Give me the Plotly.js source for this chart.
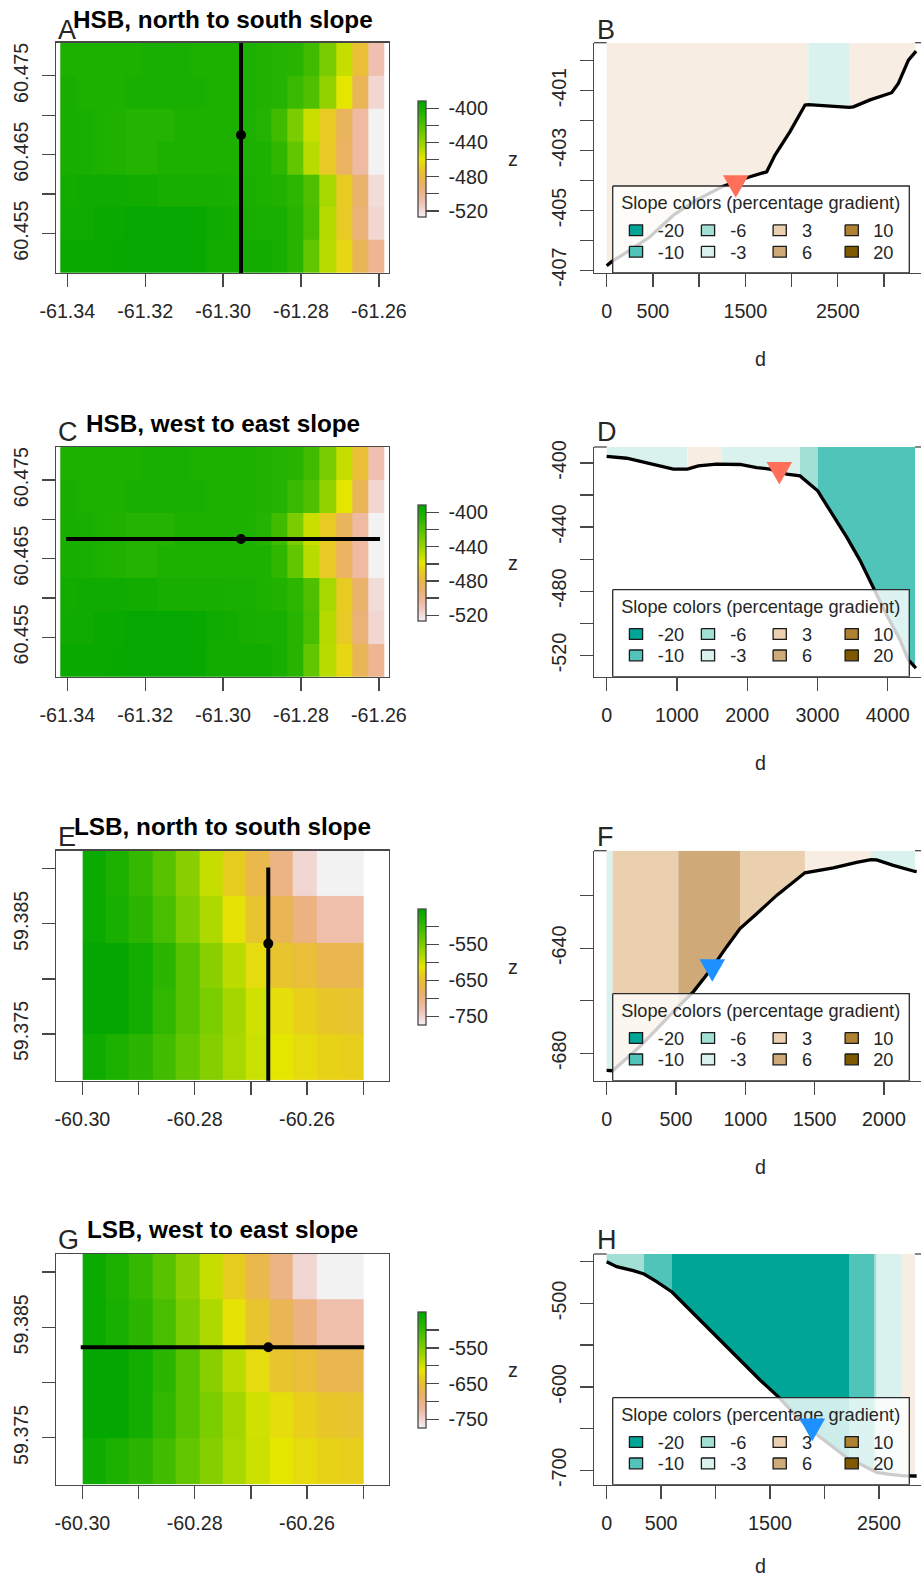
<!DOCTYPE html>
<html><head><meta charset="utf-8">
<script src="https://cdn.plot.ly/plotly-3.0.1.min.js"></script>
<style>html,body{margin:0;padding:0;background:#fff;overflow:hidden}</style>
</head><body><div id="chart" style="width:921px;height:1580px"></div>
<script>
// ---------- heatmap data (elevation, m) ----------
const hsbLon=[-61.3397,-61.3355,-61.3314,-61.3272,-61.3231,-61.3189,-61.3147,-61.3106,-61.3064,-61.3023,-61.2981,-61.2939,-61.2898,-61.2856,-61.2814,-61.2773,-61.2731,-61.2690,-61.2648,-61.2606];
const hsbLat=[60.4771,60.4729,60.4688,60.4646,60.4604,60.4563,60.4521];
const hsbZ=[
[-402,-402,-402,-402,-402,-401,-401,-401,-402,-402,-402,-402,-404,-405,-406,-414,-431,-451,-475,-509],
[-400,-402,-402,-402,-401,-401,-401,-401,-401,-402,-402,-402,-404,-405,-412,-419,-438,-459,-485,-518],
[-400,-401,-402,-403,-405,-405,-405,-402,-402,-402,-402,-402,-405,-414,-432,-452,-469,-486,-505,-527],
[-400,-401,-402,-403,-405,-405,-402,-402,-402,-402,-402,-402,-402,-409,-425,-448,-470,-488,-505,-527],
[-398,-397,-397,-397,-398,-398,-400,-400,-400,-400,-401,-401,-402,-404,-408,-419,-444,-469,-490,-520],
[-397,-397,-395,-395,-393,-393,-393,-393,-394,-397,-398,-400,-401,-401,-406,-417,-447,-470,-494,-518],
[-395,-395,-395,-394,-393,-393,-393,-393,-394,-398,-398,-398,-398,-400,-406,-425,-448,-465,-484,-501]];
const lsbLon=[-60.2979,-60.2938,-60.2896,-60.2854,-60.2813,-60.2771,-60.2729,-60.2688,-60.2646,-60.2604,-60.2563,-60.2521];
const lsbLat=[59.3896,59.3854,59.3812,59.3771,59.3729];
const lsbZ=[
[-460,-476,-496,-522,-557,-593,-635,-664,-703,-752,-774,-774],
[-460,-473,-489,-512,-548,-580,-616,-645,-671,-700,-729,-729],
[-454,-454,-467,-489,-522,-557,-587,-622,-645,-651,-668,-668],
[-454,-454,-467,-493,-522,-548,-574,-599,-619,-632,-642,-645],
[-463,-476,-489,-506,-531,-554,-577,-596,-612,-622,-629,-632]];
// ---------- slope profile data ----------
const profBd=[0,54,252,469,721,974,1262,1515,1731,1821,1983,2146,2182,2344,2524,2622,2669,2849,3083,3155,3264,3336,3347];
const profBz=[-406.85,-406.71,-406.33,-405.88,-405.16,-404.65,-404.19,-403.91,-403.71,-403.15,-402.37,-401.48,-401.47,-401.5,-401.56,-401.56,-401.54,-401.31,-401.07,-400.76,-399.98,-399.72,-399.68];
const profDd=[0,285,617,949,1148,1305,1565,1637,1898,2135,2324,2562,2751,3003,3226,3416,3605,3795,3985,4175,4293,4388,4402];
const profDz=[-395.9,-397.1,-400.4,-403.9,-403.9,-401.9,-400.8,-400.8,-401,-402.9,-403.9,-407,-408.1,-417.4,-432.9,-446.3,-460.7,-478.3,-494.8,-510.3,-522.7,-527.3,-527.9];
const profFd=[0,43,240,433,517,625,757,865,962,1082,1226,1430,1635,1803,1906,1947,2067,2224,2236];
const profFz=[-686.5,-686.6,-677.4,-666.7,-662.2,-656.6,-647.7,-639.5,-632.5,-626.9,-619.9,-611.3,-609.4,-607.3,-606.3,-606.4,-608.5,-610.8,-610.9];
const profHd=[0,92,245,343,459,600,765,979,1224,1408,1591,1744,1897,2050,2225,2326,2460,2479,2601,2714,2830,2846];
const profHz=[-450,-456,-460.8,-464.8,-474,-486.3,-507.9,-535.9,-567.8,-591.8,-613.7,-635.7,-653.7,-669.7,-686.8,-692.4,-702,-702.4,-704.8,-706.4,-706.8,-706.8];
// slope bands: breaks along d and the slope class of each band
const bandBd=[0,2182,2622,3336],  bandBc=['0','-3','0'];
const bandDd=[0,1148,1637,2751,3003,4388], bandDc=['-3','0','-3','-6','-10'];
const bandFd=[0,43,517,962,1430,1906,2224], bandFc=['-3','3','6','3','0','-3'];
const bandHd=[0,343,600,2225,2460,2479,2714,2830], bandHc=['-6','-10','-20','-10','-6','-3','0'];
const slopeColors={'-20':'#00A597','-10':'#50C4B8','-6':'#A2E0D6','-3':'#D9F2EE','0':'#F7EDE2','3':'#EBD0B0','6':'#CFAA78','10':'#AF8233','20':'#7F5900'};
const legendCols=[['-20','-10'],['-6','-3'],['3','6'],['10','20']];
const legendTitle='Slope colors (percentage gradient)';
// transect points
const sectionLon=[-61.2954,-61.2954,-60.2669,-60.2669];
const sectionLat=[60.4675,60.4675,59.3832,59.3832];
const markB=[1396,-404.2], markD=[2457,-406.5], markF=[762,-648.5], markH=[1888,-651.5];
// axis ticks
const hsbXt=[-61.34,-61.32,-61.30,-61.28,-61.26], hsbXl=['-61.34','-61.32','-61.30','-61.28','-61.26'];
const hsbYt=[60.455,60.46,60.465,60.47,60.475], hsbYl=['60.455','','60.465','','60.475'];
const lsbXt=[-60.30,-60.29,-60.28,-60.27,-60.26,-60.25], lsbXl=['-60.30','','-60.28','','-60.26',''];
const lsbYt=[59.375,59.38,59.385,59.39], lsbYl=['59.375','','59.385',''];
const hsbCt=[-400,-420,-440,-460,-480,-500,-520], hsbCl=['-400','','-440','','-480','','-520'];
const lsbCt=[-500,-550,-600,-650,-700,-750], lsbCl=['','-550','','-650','','-750'];

// R terrain.colors ramp (high to low)
const terrain=[[0,'#00A600'],[0.125,'#2DB600'],[0.25,'#63C600'],[0.375,'#A0D600'],[0.5,'#E6E600'],[0.5625,'#E7CE1D'],[0.625,'#E9BD3A'],[0.6875,'#EAB458'],[0.75,'#ECB176'],[0.8125,'#EDB594'],[0.875,'#EFC2B3'],[0.9375,'#F1D7D3'],[1,'#F2F2F2']];
const colorscale=terrain.map(([t,c])=>[1-t,c]).reverse();

const W=921,H=1580,FONT='Liberation Sans',INK='#262626',AX='#484848';
const LW=1.3, TL=13, TICK=19.7;
const tops={r1:[42.7,273],r2:[447,676.7],r3:[850.7,1080.7],r4:[1254,1484.7]};
const layout={width:W,height:H,margin:{l:0,r:0,t:0,b:0},paper_bgcolor:'#fff',plot_bgcolor:'#fff',
  showlegend:false,font:{family:FONT,size:TICK,color:INK},annotations:[],shapes:[]};
const data=[];
let axN=0;
function axisBase(o){return Object.assign({showgrid:false,zeroline:false,showline:true,linecolor:AX,linewidth:LW,ticks:'outside',ticklen:TL,tickwidth:LW,tickcolor:AX,tickmode:'array',tickfont:{family:FONT,size:TICK,color:INK},fixedrange:true,automargin:false},o);}
function note(text,x,y,size,opt){layout.annotations.push(Object.assign({text,xref:'paper',yref:'paper',x:x/W,y:1-y/H,xanchor:'center',yanchor:'middle',showarrow:false,font:{family:FONT,size,color:INK}},opt||{}));}
function newAxes(left,right,row,xo,yo){
  axN++;const xn='x'+(axN>1?axN:''),yn='y'+(axN>1?axN:'');
  const k=axN>1?axN:'';
  layout['xaxis'+k]=axisBase(Object.assign({domain:[left/W,right/W],anchor:yn,ticklabelstandoff:7},xo));
  layout['yaxis'+k]=axisBase(Object.assign({domain:[1-row[1]/H,1-row[0]/H],anchor:xn,tickangle:-90,ticklabelstandoff:6},yo));
  return {xn,yn};
}
function mapPanel(letter,title,titleY,letterY,row,lon,lat,z,zr,xr,yr,xt,xl,yt,yl,ct,cl,lineX,lineY,dot){
  const a=newAxes(56,389,row,{range:xr,tickvals:xt,ticktext:xl,mirror:true},{range:yr,tickvals:yt,ticktext:yl,mirror:true});
  data.push({type:'heatmap',x:lon,y:lat,z:z,xaxis:a.xn,yaxis:a.yn,zmin:zr[0],zmax:zr[1],zsmooth:false,colorscale:colorscale,hoverinfo:'skip',
    colorbar:{x:418/W,xanchor:'left',y:1-(row[0]+116.2)/H,yanchor:'middle',len:115.6,lenmode:'pixels',thickness:8,thicknessmode:'pixels',xpad:0,ypad:0,
      outlinewidth:LW,outlinecolor:AX,bordercolor:'rgba(0,0,0,0)',ticks:'outside',ticklen:TL,tickwidth:LW,tickcolor:AX,tickmode:'array',tickvals:ct,
      ticktext:cl.map(s=>s?'\u00A0'+s:''),tickfont:{family:FONT,size:TICK,color:INK}}});
  data.push({type:'scatter',mode:'lines',x:lineX,y:lineY,xaxis:a.xn,yaxis:a.yn,line:{color:'#000',width:4},hoverinfo:'skip'});
  data.push({type:'scatter',mode:'markers',x:[dot[0]],y:[dot[1]],xaxis:a.xn,yaxis:a.yn,marker:{color:'#000',size:10,symbol:'circle'},hoverinfo:'skip'});
  note(letter,55.5,letterY,27,{xanchor:'left'});
  note(title,222.5,titleY,24.3,{font:{family:FONT,size:24.3,color:'#000',weight:700}});
  note('z',513,row[0]+116,TICK);
}
function profilePanel(letter,letterY,row,d,zv,breaks,classes,xr,yr,xt,xl,yt,yl,mark,markColor,dY){
  const left=594,right=921;
  const a=newAxes(left,right,row,{range:xr,tickvals:xt,ticktext:xl},{range:yr,tickvals:yt,ticktext:yl});
  const px=p=>xr[0]+(p-left)/(right-left)*(xr[1]-xr[0]);
  const py=p=>yr[0]+(row[1]-p)/(row[1]-row[0])*(yr[1]-yr[0]);
  const common={type:'scatter',xaxis:a.xn,yaxis:a.yn,hoverinfo:'skip'};
  classes.forEach((c,i)=>{
    const xs=[],ys=[];
    d.forEach((v,j)=>{if(v>=breaks[i]&&v<=breaks[i+1]){xs.push(v);ys.push(zv[j]);}});
    xs.push(breaks[i+1],breaks[i]);ys.push(yr[1],yr[1]);
    data.push(Object.assign({},common,{mode:'lines',x:xs,y:ys,fill:'toself',fillcolor:slopeColors[c],line:{width:0,color:slopeColors[c]}}));
  });
  data.push(Object.assign({},common,{mode:'lines',x:d,y:zv,line:{color:'#000',width:3.3}}));
  // legend box (sits on the axis, above the curve)
  const B=row[1];
  const rect=(x0,x1,y0,y1,fill,lc,lw)=>data.push(Object.assign({},common,{mode:'lines',x:[px(x0),px(x1),px(x1),px(x0),px(x0)],y:[py(y0),py(y0),py(y1),py(y1),py(y0)],fill:'toself',fillcolor:fill,line:{color:lc,width:lw}}));
  rect(612.7,909.3,B-87,B,'rgba(255,255,255,0.8)','#2b2b2b',LW);
  data.push(Object.assign({},common,{mode:'text',x:[px(760.7)],y:[py(B-68.5)],text:[legendTitle],textposition:'middle center',cliponaxis:false,textfont:{family:FONT,size:18.2,color:INK}}));
  const swatchX=[636,708,779.7,851.7],labelX=[671,738.3,807,883.3],rowY=[B-42.7,B-21.3];
  legendCols.forEach((col,i)=>col.forEach((c,j)=>{
    rect(swatchX[i]-6.6,swatchX[i]+6.6,rowY[j]-5.4,rowY[j]+5.4,slopeColors[c],'#1a1a1a',LW);
    data.push(Object.assign({},common,{mode:'text',x:[px(labelX[i])],y:[py(rowY[j]+2.5)],text:[c],textposition:'middle center',cliponaxis:false,textfont:{family:FONT,size:18.2,color:INK}}));
  }));
  // triangle marker
  const mx=(mark[0]-xr[0])/(xr[1]-xr[0])*(right-left)+left;
  const my=row[1]-(mark[1]-yr[0])/(yr[1]-yr[0])*(row[1]-row[0]);
  data.push(Object.assign({},common,{mode:'lines',x:[px(mx-12.8),px(mx+12.8),px(mx),px(mx-12.8)],y:[py(my-11.3),py(my-11.3),py(my+11.3),py(my-11.3)],fill:'toself',fillcolor:markColor,line:{width:0,color:markColor}}));
  // top frame visible only beyond the coloured bands
  const yd=a.yn+' domain';
  const lastEnd=breaks[breaks.length-1];
  [[xr[0],breaks[0]],[lastEnd,xr[1]]].forEach(s=>layout.shapes.push({type:'line',xref:a.xn,yref:yd,x0:s[0],x1:s[1],y0:1,y1:1,line:{color:AX,width:LW},layer:'above'}));
  note(letter,595,letterY,27,{xanchor:'left'});
  note('d',760,row[1]+dY,TICK);
}
const hsbXr=[-61.3429,-61.2574],hsbYr=[60.45,60.4792],lsbXr=[-60.3047,-60.2454],lsbYr=[59.37076,59.39163];
const hsbZr=[-527,-391.4],lsbZr=[-774.3,-450.4];
mapPanel('A','HSB, north to south slope',20,30,tops.r1,hsbLon,hsbLat,hsbZ,hsbZr,hsbXr,hsbYr,hsbXt,hsbXl,hsbYt,hsbYl,hsbCt,hsbCl,[sectionLon[0],sectionLon[0]],[60.44,60.49],[sectionLon[0],sectionLat[0]]);
profilePanel('B',30,tops.r1,profBd,profBz,bandBd,bandBc,[-137,3400],[-407.09,-399.4],[0,500,1000,1500,2000,2500,3000],['0','500','','1500','','2500',''],[-400,-401,-402,-403,-404,-405,-406,-407],['','-401','','-403','','-405','','-407'],markB,'#FF6F59',86);
mapPanel('C','HSB, west to east slope',423,432,tops.r2,hsbLon,hsbLat,hsbZ,hsbZr,hsbXr,hsbYr,hsbXt,hsbXl,hsbYt,hsbYl,hsbCt,hsbCl,[-61.3403,-61.2597],[sectionLat[1],sectionLat[1]],[sectionLon[1],sectionLat[1]]);
profilePanel('D',432,tops.r2,profDd,profDz,bandDd,bandDc,[-180,4473],[-533.2,-390.1],[0,1000,2000,3000,4000],['0','1000','2000','3000','4000'],[-400,-420,-440,-460,-480,-500,-520],['-400','','-440','','-480','','-520'],markD,'#FF6F59',86);
mapPanel('E','LSB, north to south slope',826,837,tops.r3,lsbLon,lsbLat,lsbZ,lsbZr,lsbXr,lsbYr,lsbXt,lsbXl,lsbYt,lsbYl,lsbCt,lsbCl,[sectionLon[2],sectionLon[2]],[59.3901,59.36],[sectionLon[2],sectionLat[2]]);
profilePanel('F',837,tops.r3,profFd,profFz,bandFd,bandFc,[-91,2267],[-690.4,-602.9],[0,500,1000,1500,2000],['0','500','1000','1500','2000'],[-620,-640,-660,-680],['','-640','','-680'],markF,'#1E90FF',86);
mapPanel('G','LSB, west to east slope',1229,1240,tops.r4,lsbLon,lsbLat,lsbZ,lsbZr,lsbXr,lsbYr,lsbXt,lsbXl,lsbYt,lsbYl,lsbCt,lsbCl,[-60.3003,-60.2498],[sectionLat[3],sectionLat[3]],[sectionLon[3],sectionLat[3]]);
profilePanel('H',1240,tops.r4,profHd,profHz,bandHd,bandHc,[-116,2886],[-717.2,-440.8],[0,500,1000,1500,2000,2500],['0','500','','1500','','2500'],[-450,-500,-550,-600,-650,-700],['','-500','','-600','','-700'],markH,'#1E90FF',81.5);
Plotly.newPlot('chart',data,layout,{staticPlot:true,displayModeBar:false});
</script></body></html>
